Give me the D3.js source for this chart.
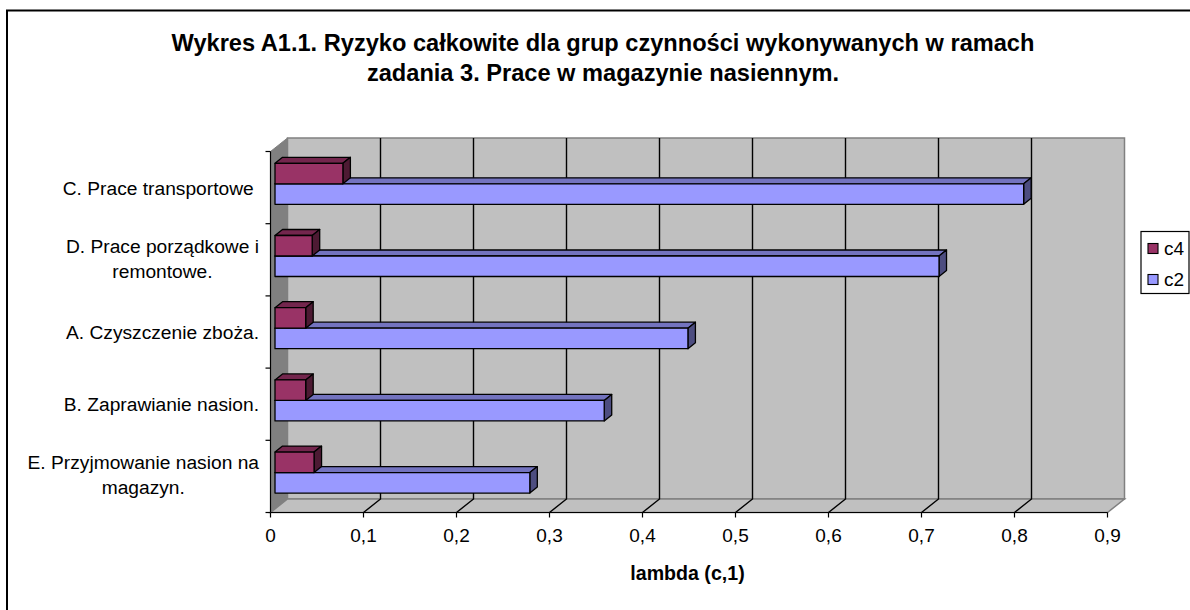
<!DOCTYPE html>
<meta charset="UTF-8">
<script src="https://cdnjs.cloudflare.com/ajax/libs/d3/7.4.4/d3.min.js"></script>
<style>
    body { margin: 0; background: #fff; }
    svg { display: block; }
    text { font-family: "Liberation Sans", Arial, sans-serif; fill: #000; white-space: pre; }
</style>
<svg id="chart" width="1190" height="610"></svg>
<script>
    // top to bottom, as in the picture
    const categories = [
        ["C. Prace transportowe "],
        ["D. Prace porządkowe i", "remontowe."],
        ["A. Czyszczenie zboża."],
        ["B. Zaprawianie nasion."],
        ["E. Przyjmowanie nasion na", "magazyn."]
    ];
    const c4 = [0.073, 0.040, 0.033, 0.033, 0.042];
    const c2 = [0.805, 0.714, 0.444, 0.354, 0.274];
    const ticks = [0, 0.1, 0.2, 0.3, 0.4, 0.5, 0.6, 0.7, 0.8, 0.9];
    const titleLines = [
        "Wykres A1.1. Ryzyko całkowite dla grup czynności wykonywanych w ramach",
        "zadania 3. Prace w magazynie nasiennym."
    ];
    const seriesNames = ["c4", "c2"];
    const xTitle = "lambda (c,1)";

    let svg = d3.select("svg");

    // outer chart frame, runs off the page on the right and at the bottom
    svg.append("rect")
        .attr("x", 7).attr("y", 10.5)
        .attr("width", 1190).attr("height", 640)
        .attr("fill", "#fff").attr("stroke", "#000").attr("stroke-width", 2);

    svg.append("g").selectAll("text")
        .data(titleLines)
        .join("text")
        .attr("x", 603)
        .attr("y", (d, i) => 51 + i * 30)
        .attr("text-anchor", "middle")
        .style("font-size", "23.6px")
        .style("font-weight", "bold")
        .text(d => d);

    let x = d3.scaleLinear().domain([0, 0.9]).range([270.5, 1107.5]);
    let y = d3.scaleBand().domain(d3.range(categories.length)).range([151.5, 512.5]);

    // depth of the 3d box and of the bars
    const wallDx = 17, wallDy = -13.5;
    const barDx = 7.5, barDy = -6;
    const barOff = 4.5;
    const barH = 20.5;
    const bottom = y.range()[1], top_ = y.range()[0];

    const poly = pts => pts.map(p => p.join(",")).join(" ");

    let wall = svg.append("g");
    // back wall
    wall.append("polygon")
        .attr("points", poly([
            [x(0) + wallDx, top_ + wallDy], [x(0.9) + wallDx, top_ + wallDy],
            [x(0.9) + wallDx, bottom + wallDy], [x(0) + wallDx, bottom + wallDy]]))
        .attr("fill", "#c0c0c0").attr("stroke", "#808080").attr("stroke-width", 1.5);
    // left wall
    wall.append("polygon")
        .attr("points", poly([
            [x(0), top_], [x(0) + wallDx, top_ + wallDy],
            [x(0) + wallDx, bottom + wallDy], [x(0), bottom]]))
        .attr("fill", "#808080").attr("stroke", "#808080");
    // floor
    wall.append("polygon")
        .attr("points", poly([
            [x(0), bottom], [x(0) + wallDx, bottom + wallDy],
            [x(0.9) + wallDx, bottom + wallDy], [x(0.9), bottom]]))
        .attr("fill", "#c0c0c0").attr("stroke", "#808080").attr("stroke-width", 1.5);

    // grid lines on back wall and floor
    let grid = svg.append("g").attr("stroke", "#000").attr("stroke-width", 1.4).attr("fill", "none");
    grid.selectAll("polyline")
        .data(ticks.slice(1, -1))
        .join("polyline")
        .attr("points", d => poly([
            [x(d), bottom],
            [x(d) + wallDx, bottom + wallDy],
            [x(d) + wallDx, top_ + wallDy]]));

    // bars, back series first so the front one overlaps it
    function box(g, value, yTop, fill, topFill, sideFill) {
        let x0 = x(0) + barOff, x1 = x(value) + barOff;
        let faces = [
            [[[x0, yTop], [x0 + barDx, yTop + barDy], [x1 + barDx, yTop + barDy], [x1, yTop]], topFill],
            [[[x1, yTop], [x1 + barDx, yTop + barDy], [x1 + barDx, yTop + barH + barDy], [x1, yTop + barH]], sideFill],
            [[[x0, yTop], [x1, yTop], [x1, yTop + barH], [x0, yTop + barH]], fill]
        ];
        faces.forEach(f => {
            g.append("polygon")
                .attr("points", poly(f[0]))
                .attr("fill", f[1])
                .attr("stroke", "#000")
                .attr("stroke-width", 1.3)
                .attr("stroke-linejoin", "round");
        });
    }

    let bars = svg.append("g");
    categories.forEach((c, i) => {
        let mid = y(i) + y.bandwidth() / 2 - 3.8;
        box(bars, c2[i], mid, "#9999ff", "#7373bf", "#4d4d80");
        box(bars, c4[i], mid - barH, "#993366", "#73264d", "#4d1a33");
    });

    // axes in front
    let axes = svg.append("g").attr("stroke", "#000").attr("stroke-width", 1.2);
    axes.append("line").attr("x1", x(0)).attr("x2", x(0.9)).attr("y1", bottom).attr("y2", bottom);
    axes.append("line").attr("x1", x(0)).attr("x2", x(0)).attr("y1", top_).attr("y2", bottom);
    axes.selectAll(".xt").data(ticks).join("line").attr("class", "xt")
        .attr("x1", d => x(d)).attr("x2", d => x(d))
        .attr("y1", bottom).attr("y2", bottom + 5);
    axes.selectAll(".yt").data(d3.range(categories.length + 1)).join("line").attr("class", "yt")
        .attr("x1", x(0) - 5).attr("x2", x(0))
        .attr("y1", d => top_ + d * y.step()).attr("y2", d => top_ + d * y.step());

    svg.append("g").selectAll("text")
        .data(ticks)
        .join("text")
        .attr("x", d => x(d))
        .attr("y", 541.5)
        .attr("text-anchor", "middle")
        .style("font-size", "19px")
        .text(d => String(d).replace(".", ","));

    // first line ends at the same x on every label, second line is centred under it
    let labels = svg.append("g").selectAll("text")
        .data(categories)
        .join("text")
        .attr("text-anchor", "middle")
        .style("font-size", "19.2px");
    labels.each(function (lines, i) {
        let mid = y(i) + y.bandwidth() / 2;
        let t = d3.select(this);
        let spans = t.selectAll("tspan")
            .data(lines)
            .join("tspan")
            .text(d => d);
        let w = spans.node().getComputedTextLength();
        spans.attr("x", 259 - w / 2)
            .attr("y", (d, k) => mid + (lines.length > 1 ? 5.5 : 7) + (k - (lines.length - 1) / 2) * 25);
    });

    svg.append("text")
        .attr("x", 687.5).attr("y", 580)
        .attr("text-anchor", "middle")
        .style("font-size", "19.6px")
        .style("font-weight", "bold")
        .text(xTitle);

    // legend
    let legend = svg.append("g");
    legend.append("rect")
        .attr("x", 1141).attr("y", 231.5).attr("width", 48).attr("height", 62)
        .attr("fill", "#fff").attr("stroke", "#000").attr("stroke-width", 1.2);
    let rows = legend.selectAll("g").data(seriesNames).join("g");
    rows.append("rect")
        .attr("x", 1148).attr("y", (d, i) => 243.5 + i * 31)
        .attr("width", 10).attr("height", 10)
        .attr("fill", (d, i) => ["#993366", "#9999ff"][i])
        .attr("stroke", "#000").attr("stroke-width", 1.1);
    rows.append("text")
        .attr("x", 1164).attr("y", (d, i) => 254.5 + i * 31)
        .style("font-size", "19px")
        .text(d => d);
</script>
